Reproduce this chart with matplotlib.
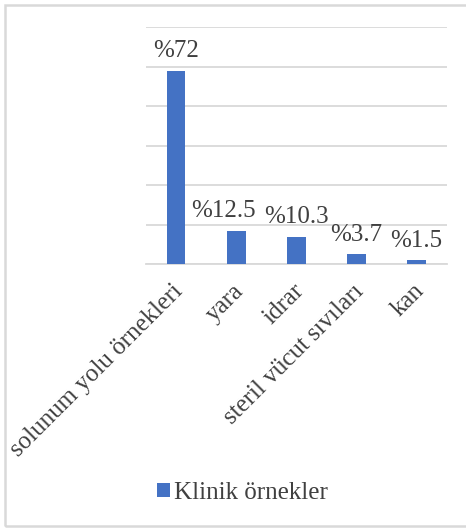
import numpy as np
import matplotlib.pyplot as plt
from matplotlib.patches import Rectangle
from matplotlib.transforms import ScaledTranslation

# sample types and their share (%)
categories = ["solunum yolu örnekleri", "yara", "idrar", "steril vücut sıvıları", "kan"]
percentages = [72, 12.5, 10.3, 3.7, 1.5]
value_labels = ["%72", "%12.5", "%10.3", "%3.7", "%1.5"]
series_name = "Klinik örnekler"

bar_color = "#4472C4"
grid_color = "#D9D9D9"
text_color = "#404040"

plt.rcParams["font.family"] = ["Liberation Serif", "DejaVu Serif"]

fig = plt.figure(figsize=(4.66, 5.29), dpi=100)
ax = fig.add_axes([0.3133, 0.5004, 0.6453, 0.448])

x = np.arange(len(categories))
bars = ax.bar(x, percentages, width=0.31, color=bar_color, zorder=3, label=series_name)

# six equal grid intervals on the value axis
ymax = 88.2
ax.set_ylim(0, ymax)
ax.set_yticks(np.linspace(0, ymax, 7))
ax.set_xlim(-0.5, len(categories) - 0.5)
ax.grid(axis="y", color=grid_color, linewidth=1.3, zorder=0)
ax.tick_params(axis="y", length=0, labelleft=False)
ax.tick_params(axis="x", length=0, pad=4)
for side in ["top", "right", "left"]:
    ax.spines[side].set_visible(False)
ax.spines["bottom"].set_color(grid_color)
ax.spines["bottom"].set_linewidth(1.3)

ax.set_xticks(x)
ax.set_xticklabels(categories, rotation=45, ha="right", va="top",
                   rotation_mode="anchor", fontsize=18, color=text_color)
shift = ScaledTranslation(-0.04, -0.10, fig.dpi_scale_trans)
for lbl in ax.get_xticklabels():
    lbl.set_transform(lbl.get_transform() + shift)

# the second label is nudged left so it clears its neighbour
label_dx = [0, -9, 0, 0, 0]
for rect, txt, dx in zip(bars, value_labels, label_dx):
    ax.annotate(txt, (rect.get_x() + rect.get_width() / 2, rect.get_height()),
                xytext=(dx, 6), textcoords="offset points",
                ha="center", va="bottom", fontsize=18, color=text_color)

fig.legend(handles=[bars], labels=[series_name], loc="center",
           bbox_to_anchor=(0.52, 1 - 493 / 529), frameon=False,
           fontsize=18, labelcolor=text_color, handlelength=0.5,
           handleheight=0.5, handletextpad=0.15)

# chart frame
fig.patches.append(Rectangle((4.5 / 466, 3 / 529), 1.2, 1 - 8 / 529,
                             transform=fig.transFigure, fill=False,
                             edgecolor=grid_color, linewidth=1.8))

fig.savefig("out.png", dpi=100, facecolor="white")
